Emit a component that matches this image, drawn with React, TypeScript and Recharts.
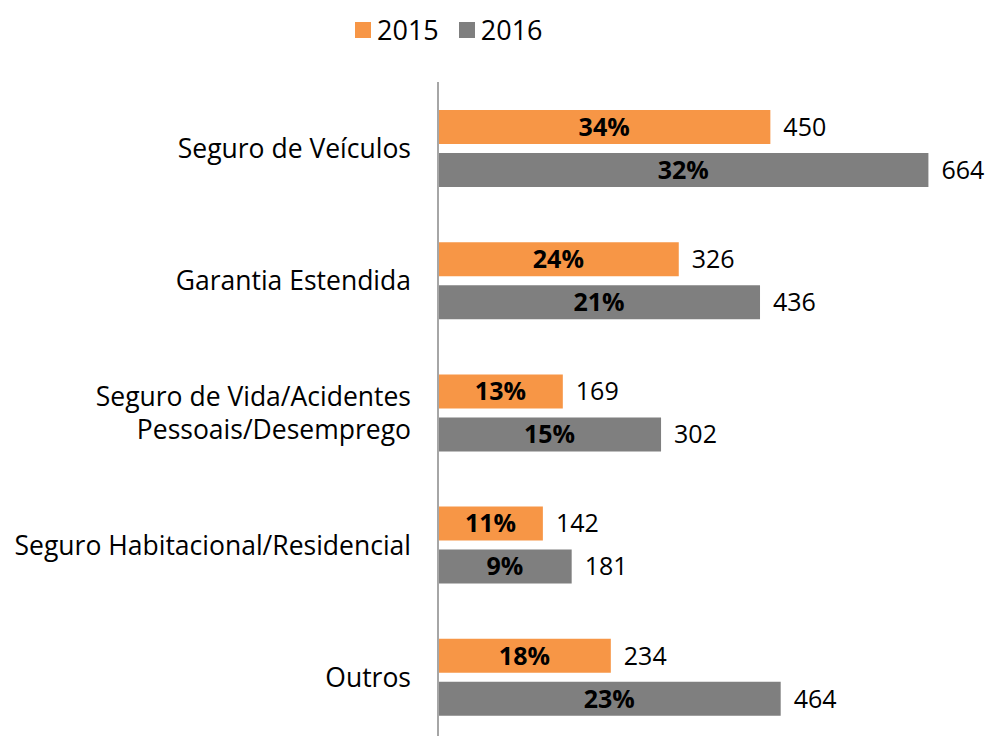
import React from 'react';
import { BarChart, Bar, XAxis, YAxis, LabelList } from 'recharts';

const categories = [
    'Seguro de Veículos',
    'Garantia Estendida',
    'Seguro de Vida/Acidentes\nPessoais/Desemprego',
    'Seguro Habitacional/Residencial',
    'Outros',
];
const values2015 = [450, 326, 169, 142, 234];
const values2016 = [664, 436, 302, 181, 464];
const share2015 = [34, 24, 13, 11, 18];
const share2016 = [32, 21, 15, 9, 23];

const ORANGE = '#F79646';
const GRAY = '#7F7F7F';
const FONT = '"Open Sans", "Noto Sans", sans-serif';

const data = categories.map((name, i) => ({
    name,
    v2015: values2015[i],
    v2016: values2016[i],
    p2015: share2015[i],
    p2016: share2016[i],
}));

function CategoryTick(props: any) {
    const { x, y, payload } = props;
    const lines = String(payload.value).split('\n');
    const lineH = 33;
    const startY = y - ((lines.length - 1) * lineH) / 2;
    return (
        <text x={x} y={startY} textAnchor="end" fill="#000" fontSize={26.5} fontFamily={FONT} dominantBaseline="central">
            {lines.map((l, i) => (
                <tspan key={i} x={x} y={startY + i * lineH}>
                    {l}
                </tspan>
            ))}
        </text>
    );
}

function LegendBox() {
    const items = [
        { label: '2015', color: ORANGE },
        { label: '2016', color: GRAY },
    ];
    return (
        <div
            style={{
                position: 'absolute',
                left: 355,
                top: 14,
                height: 32,
                display: 'flex',
                alignItems: 'center',
                fontFamily: FONT,
                fontSize: 27,
                lineHeight: '32px',
                color: '#000',
            }}
        >
            {items.map((it) => (
                <div key={it.label} style={{ display: 'flex', alignItems: 'center', marginRight: 20 }}>
                    <span style={{ width: 16, height: 16, background: it.color, marginRight: 6, display: 'inline-block' }} />
                    <span>{it.label}</span>
                </div>
            ))}
        </div>
    );
}

export default function App() {
    return (
        <div style={{ position: 'absolute', left: 0, top: 0, width: 989, height: 736, overflow: 'hidden', background: '#fff' }}>
            <LegendBox />
            <BarChart
                width={989}
                height={760}
                data={data}
                layout="vertical"
                margin={{ top: 82, right: 34, left: 0, bottom: 17 }}
                barSize={34}
                barGap={9}
            >
                <XAxis type="number" domain={[0, 700]} hide />
                <YAxis
                    type="category"
                    dataKey="name"
                    width={438}
                    axisLine={{ stroke: '#A6A6A6', strokeWidth: 2 }}
                    tickLine={false}
                    tickSize={0}
                    tickMargin={27}
                    tick={<CategoryTick />}
                    interval={0}
                />
                <Bar dataKey="v2015" fill={ORANGE} isAnimationActive={false}>
                    <LabelList
                        dataKey="p2015"
                        position="center"
                        formatter={(v: any) => `${v}%`}
                        style={{ fontFamily: FONT, fontSize: 25, fontWeight: 700, fill: '#000' }}
                    />
                    <LabelList
                        dataKey="v2015"
                        position="right"
                        offset={13}
                        style={{ fontFamily: FONT, fontSize: 25, fill: '#000' }}
                    />
                </Bar>
                <Bar dataKey="v2016" fill={GRAY} isAnimationActive={false}>
                    <LabelList
                        dataKey="p2016"
                        position="center"
                        formatter={(v: any) => `${v}%`}
                        style={{ fontFamily: FONT, fontSize: 25, fontWeight: 700, fill: '#000' }}
                    />
                    <LabelList
                        dataKey="v2016"
                        position="right"
                        offset={13}
                        style={{ fontFamily: FONT, fontSize: 25, fill: '#000' }}
                    />
                </Bar>
            </BarChart>
        </div>
    );
}
